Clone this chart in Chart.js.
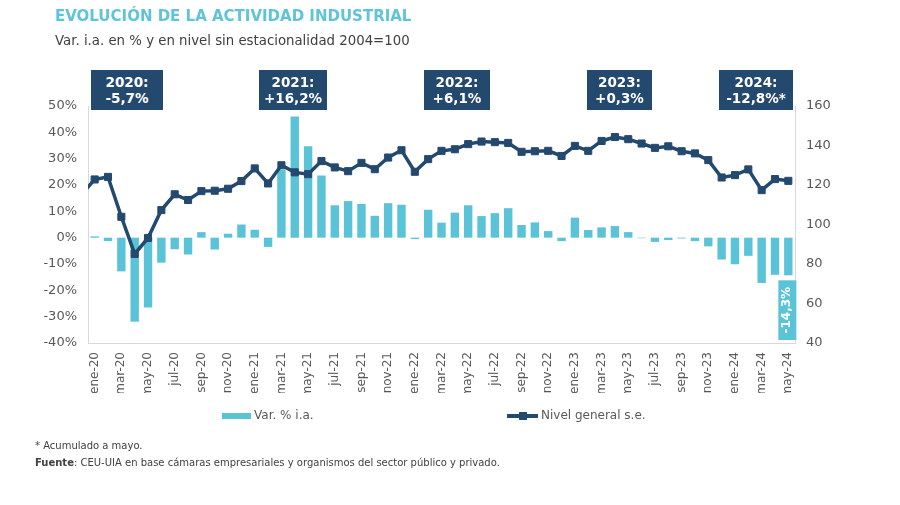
<!DOCTYPE html>
<html>
<head>
<meta charset="utf-8">
<script src="https://cdn.jsdelivr.net/npm/chart.js@4.4.1/dist/chart.umd.min.js"></script>
<style>
  html, body { margin:0; padding:0; background:#fff; }
  #wrap { position:relative; width:900px; height:505px; overflow:hidden; font-family:"DejaVu Sans", Verdana, sans-serif; }
  #c { position:absolute; left:0; top:0; }
  .title { position:absolute; left:55px; top:7px; font-size:15px; font-weight:bold; color:#5fc4d8; white-space:nowrap; }
  .sub { position:absolute; left:55px; top:33px; font-size:13.3px; color:#404040; white-space:nowrap; }
  .ann { position:absolute; top:70px; height:40px; background:#24496f; color:#fff; font-weight:bold; font-size:13.5px; line-height:16px; text-align:center; display:flex; flex-direction:column; justify-content:center; }
  .leg { position:absolute; top:408px; font-size:12px; color:#595959; white-space:nowrap; }
  .note { position:absolute; left:35px; font-size:10px; color:#404040; white-space:nowrap; }
</style>
</head>
<body>
<div id="wrap">
  <canvas id="c" width="900" height="505"></canvas>
  <div class="title">EVOLUCIÓN DE LA ACTIVIDAD INDUSTRIAL</div>
  <div class="sub">Var. i.a. en % y en nivel sin estacionalidad 2004=100</div>
  <div class="ann" style="left:91px;width:72px;"><div>2020:</div><div>-5,7%</div></div>
  <div class="ann" style="left:259px;width:68px;"><div>2021:</div><div>+16,2%</div></div>
  <div class="ann" style="left:424px;width:66px;"><div>2022:</div><div>+6,1%</div></div>
  <div class="ann" style="left:587px;width:65px;"><div>2023:</div><div>+0,3%</div></div>
  <div class="ann" style="left:719px;width:74px;"><div>2024:</div><div>-12,8%*</div></div>
  <div class="leg" style="left:222px;"><span style="display:inline-block;width:29px;height:6px;background:#5bc3d7;vertical-align:middle;margin-right:3px;"></span>Var. % i.a.</div>
  <div class="leg" style="left:507px;"><span style="display:inline-block;position:relative;width:31px;height:4px;background:#24496f;vertical-align:middle;margin-right:3px;"><span style="position:absolute;left:12px;top:-2px;width:8px;height:8px;background:#24496f;"></span></span>Nivel general s.e.</div>
  <div class="note" style="top:440px;">* Acumulado a mayo.</div>
  <div class="note" style="top:457px;"><b>Fuente</b>: CEU-UIA en base cámaras empresariales y organismos del sector público y privado.</div>
</div>
<script>
// Categories (first one, dic-19, lies just before the visible range so the line enters from the left edge)
const months = [
  'dic-19',
  'ene-20','feb-20','mar-20','abr-20','may-20','jun-20','jul-20','ago-20','sep-20','oct-20','nov-20','dic-20',
  'ene-21','feb-21','mar-21','abr-21','may-21','jun-21','jul-21','ago-21','sep-21','oct-21','nov-21','dic-21',
  'ene-22','feb-22','mar-22','abr-22','may-22','jun-22','jul-22','ago-22','sep-22','oct-22','nov-22','dic-22',
  'ene-23','feb-23','mar-23','abr-23','may-23','jun-23','jul-23','ago-23','sep-23','oct-23','nov-23','dic-23',
  'ene-24','feb-24','mar-24','abr-24','may-24'
];
// Var. % i.a.
const varIA = [
  null,
  0.5, -1.3, -12.8, -31.9, -26.5, -9.5, -4.4, -6.4, 2.1, -4.5, 1.5, 5.0,
  3.0, -3.5, 25.8, 46.0, 34.7, 23.6, 12.3, 13.9, 12.8, 8.3, 13.1, 12.5,
  -0.5, 10.6, 5.7, 9.5, 12.3, 8.2, 9.3, 11.2, 4.8, 5.8, 2.5, -1.3,
  7.6, 2.9, 3.9, 4.4, 2.1, -0.2, -1.6, -0.9, -0.3, -1.3, -3.3, -8.3,
  -10.1, -6.9, -17.2, -14.1, -14.3
];
// Nivel general s.e. (2004=100)
const nivel = [
  115.0,
  122.8, 124.1, 103.9, 85.1, 93.2, 107.3, 115.3, 112.4, 116.9, 117.1, 118.1, 122.0,
  128.4, 120.8, 130.0, 126.4, 125.5, 132.1, 128.9, 127.0, 131.2, 128.0, 133.9, 137.6,
  126.7, 133.1, 137.3, 138.1, 140.7, 142.0, 141.7, 141.3, 136.8, 137.1, 137.3, 134.7,
  139.8, 137.3, 142.3, 144.3, 143.2, 141.0, 138.8, 139.6, 137.1, 136.0, 132.6, 123.8,
  125.0, 127.9, 117.4, 123.0, 122.1
];
const leftTicks = { min: -40, max: 50, step: 10 };
const rightTicks = { min: 40, max: 160, step: 20 };
const lastLabel = '-14,3%';

const cyan = '#5bc3d7';
const navy = '#24496f';
const grey = '#595959';
const axisGrey = '#d9d9d9';

const lastLabelPlugin = {
  id: 'lastLabel',
  afterDatasetsDraw(chart) {
    const meta = chart.getDatasetMeta(0);
    const el = meta.data[meta.data.length - 1];
    if (!el) return;
    const ctx = chart.ctx;
    const w = 18;
    const top = el.y + 5;
    const bottom = chart.chartArea.bottom - 3;
    ctx.save();
    ctx.fillStyle = cyan;
    ctx.fillRect(el.x - w / 2 - 1, top, w, bottom - top);
    ctx.translate(el.x - 1, (top + bottom) / 2);
    ctx.rotate(-Math.PI / 2);
    ctx.fillStyle = '#fff';
    ctx.font = 'bold 12px "DejaVu Sans", sans-serif';
    ctx.textAlign = 'center';
    ctx.textBaseline = 'middle';
    ctx.fillText(lastLabel, 0, 0);
    ctx.restore();
  }
};

new Chart(document.getElementById('c'), {
  type: 'bar',
  data: {
    labels: months,
    datasets: [
      {
        type: 'bar',
        label: 'Var. % i.a.',
        data: varIA,
        backgroundColor: cyan,
        yAxisID: 'y',
        barPercentage: 0.63,
        categoryPercentage: 1,
        order: 1
      },
      {
        type: 'line',
        label: 'Nivel general s.e.',
        data: nivel,
        borderColor: navy,
        backgroundColor: navy,
        borderWidth: 3.5,
        pointStyle: 'rect',
        pointRadius: 5,
        pointBorderWidth: 1,
        pointBackgroundColor: navy,
        pointBorderColor: navy,
        tension: 0,
        yAxisID: 'y2',
        order: 0
      }
    ]
  },
  options: {
    responsive: false,
    animation: false,
    layout: { padding: { top: 106, bottom: 112, left: 0, right: 0 } },
    plugins: { legend: { display: false }, tooltip: { enabled: false } },
    scales: {
      x: {
        min: 'ene-20',
        grid: { display: false, drawTicks: false },
        border: { display: true, color: axisGrey, width: 1 },
        afterFit(s) { s.height = 50; },
        ticks: {
          autoSkip: false,
          maxRotation: 90,
          minRotation: 90,
          padding: 9,
          color: grey,
          font: { family: '"DejaVu Sans", sans-serif', size: 12 },
          callback(value) { return (value - 1) % 2 === 0 ? this.getLabelForValue(value) : ''; }
        }
      },
      y: {
        position: 'left',
        min: leftTicks.min, max: leftTicks.max,
        grid: { display: false, drawTicks: false },
        border: { display: true, color: axisGrey, width: 1 },
        afterFit(s) { s.width = 88; },
        ticks: {
          stepSize: leftTicks.step,
          padding: 11,
          color: grey,
          font: { family: '"DejaVu Sans", sans-serif', size: 13 },
          callback(v) { return v + '%'; }
        }
      },
      y2: {
        position: 'right',
        min: rightTicks.min, max: rightTicks.max,
        grid: { display: false, drawTicks: false },
        border: { display: true, color: axisGrey, width: 1 },
        afterFit(s) { s.width = 105; },
        ticks: {
          stepSize: rightTicks.step,
          padding: 11,
          color: grey,
          font: { family: '"DejaVu Sans", sans-serif', size: 13 }
        }
      }
    }
  },
  plugins: [lastLabelPlugin]
});
</script>
</body>
</html>
